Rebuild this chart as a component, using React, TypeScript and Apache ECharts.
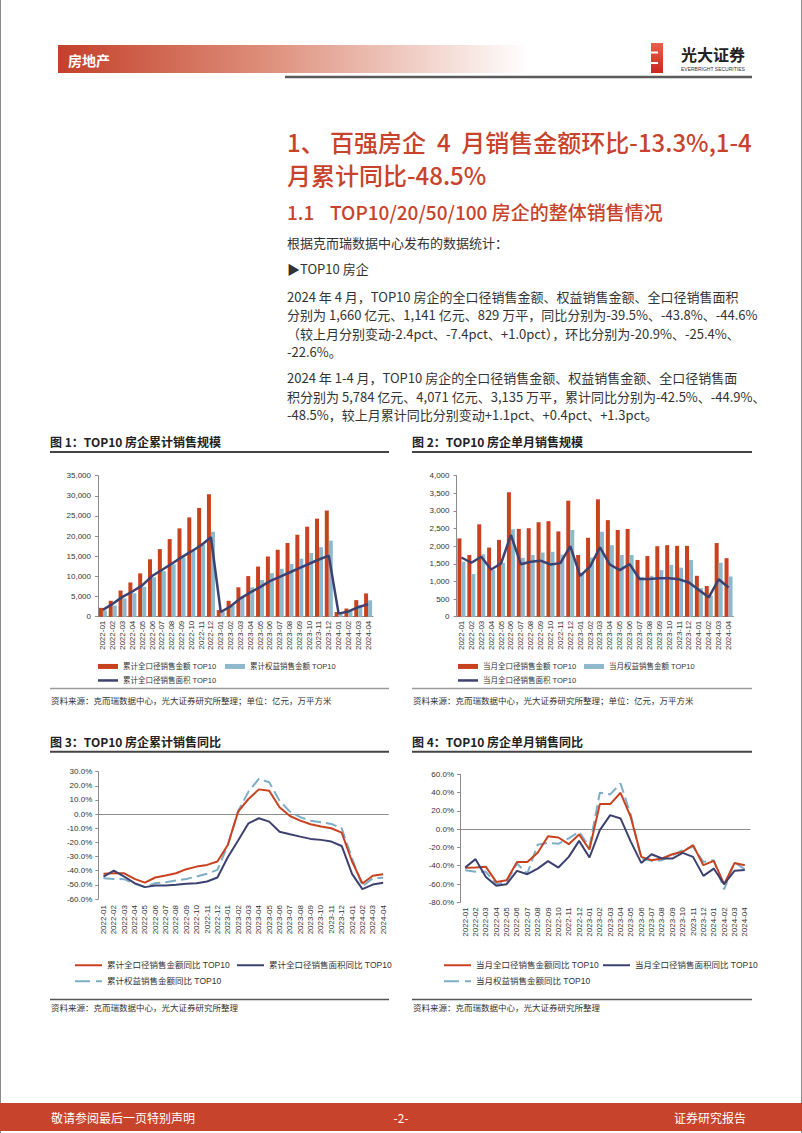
import React, { useEffect, useRef } from 'react';
import * as echarts from 'echarts';

const months = [
  '2022-01', '2022-02', '2022-03', '2022-04', '2022-05', '2022-06', '2022-07', '2022-08', '2022-09', '2022-10', '2022-11', '2022-12',
  '2023-01', '2023-02', '2023-03', '2023-04', '2023-05', '2023-06', '2023-07', '2023-08', '2023-09', '2023-10', '2023-11', '2023-12',
  '2024-01', '2024-02', '2024-03', '2024-04',
];

// 图1 累计（亿元 / 万平方米）
const cumAmount = [2200, 3950, 6500, 8500, 10750, 14250, 16780, 19270, 21930, 24650, 27000, 30400, 1650, 3950, 7300, 10080, 12450, 14950, 16620, 18300, 20350, 22350, 24350, 26350, 1160, 2030, 4120, 5784];
const cumEquity = [1560, 2770, 4540, 5820, 7420, 9800, 11300, 13000, 14700, 16400, 17900, 21100, 1240, 2800, 5150, 7300, 9100, 10800, 11900, 13100, 14400, 15800, 17250, 18900, 810, 1410, 2930, 4071];
const cumArea = [1680, 3210, 4920, 6260, 7770, 10090, 11580, 13140, 14720, 16200, 17720, 19730, 1160, 2580, 4550, 6020, 7350, 8830, 9900, 10970, 12060, 13140, 14200, 15170, 760, 1310, 2360, 3135];

// 图2 单月
const monAmount = [2220, 1750, 2620, 1960, 2180, 3530, 2490, 2510, 2680, 2710, 2420, 3290, 1750, 2240, 3330, 2740, 2460, 2490, 1610, 1720, 2000, 2030, 2010, 2010, 1160, 870, 2090, 1660];
const monEquity = [1560, 1210, 1770, 1330, 1530, 2480, 1670, 1750, 1820, 1840, 1760, 2460, 1240, 1680, 2410, 2030, 1750, 1750, 1130, 1160, 1320, 1470, 1390, 1610, 810, 600, 1530, 1141];
const monArea = [1680, 1530, 1700, 1340, 1510, 2320, 1490, 1560, 1590, 1480, 1520, 2000, 1160, 1420, 1970, 1480, 1320, 1490, 1070, 1070, 1090, 1090, 1060, 970, 760, 550, 1060, 829];

// 图3 累计同比（%）
const cumAmountYoy = [-42.2, -41.8, -41.8, -45.8, -48.4, -44.8, -43.4, -41.8, -38.9, -37.1, -35.9, -33.5, -21.8, 1.8, 10.7, 17.5, 16.6, 4.8, -1.3, -4.6, -7.2, -8.8, -10.0, -13.1, -33.5, -49.0, -43.6, -42.5];
const cumAreaYoy = [-44.1, -39.9, -44.1, -48.8, -51.6, -50.5, -50.5, -50.0, -49.3, -48.8, -47.6, -44.8, -30.5, -18.7, -6.5, -2.9, -5.3, -12.4, -14.2, -15.9, -17.5, -18.2, -19.4, -22.5, -42.2, -53.0, -49.8, -48.5];
const cumEquityYoy = [-45.3, -45.8, -46.0, -49.3, -51.5, -48.8, -48.1, -46.9, -45.8, -44.1, -42.2, -39.4, -22.0, 2.0, 15.9, 25.0, 22.5, 9.5, 1.8, -2.2, -4.6, -5.8, -6.9, -10.0, -31.2, -51.0, -45.3, -44.9];

// 图4 单月同比（%）
const monAmountYoy = [-42.3, -42.0, -41.2, -57.7, -55.8, -35.8, -35.8, -25.9, -7.7, -9.1, -16.4, -5.8, -22.3, 27.4, 27.4, 39.8, 12.8, -30.3, -33.9, -32.1, -27.4, -24.8, -17.5, -39.4, -34.7, -60.2, -37.1, -39.5];
const monAreaYoy = [-42.0, -32.8, -52.2, -62.0, -60.2, -45.6, -49.3, -43.1, -35.0, -42.0, -30.3, -12.8, -31.0, -1.1, 15.3, 11.7, -13.9, -36.9, -27.4, -32.1, -32.1, -25.9, -30.3, -51.1, -43.1, -60.2, -45.6, -44.6];
const monEquityYoy = [-44.9, -46.7, -46.7, -60.2, -57.7, -37.6, -48.5, -17.0, -15.0, -16.0, -10.0, -3.0, -19.3, 39.8, 38.0, 50.0, 15.3, -32.1, -34.7, -33.9, -28.5, -23.0, -19.3, -35.8, -33.9, -66.0, -36.4, -43.8];

const CJK = "'Noto Sans CJK SC', 'Noto Sans', sans-serif";
const ARIAL = "'Liberation Sans', Arial, 'Noto Sans CJK SC', sans-serif";
const RED = '#C8432B';
const BAR_RED = '#C9421F';
const BAR_BLUE = '#8FB8CC';
const NAVY = '#3D4170';
const DASH_BLUE = '#7DAEC6';
const AXIS = '#8C8C8C';
const TXT = '#333333';

const thousands = (v: number) => String(v).replace(/\B(?=(\d{3})+(?!\d))/g, ',');
const pct = (v: number) => v.toFixed(1) + '%';

function txt(x: number, y: number, s: string, font: string, fill: string, align = 'left') {
  return {
    type: 'text', x, y, silent: true,
    style: { text: s, font, fill, textAlign: align, align, textVerticalAlign: 'middle', verticalAlign: 'middle' },
  };
}
function hline(x1: number, x2: number, y: number, stroke: string, lw: number) {
  return { type: 'line', silent: true, shape: { x1, y1: y, x2, y2: y }, style: { stroke, lineWidth: lw } };
}

function leg(name: string, left: number, yc: number, fs: number, w: number, h: number, icon: string) {
  return {
    data: [name], left, top: yc - 5, padding: 0, itemGap: 0, itemWidth: w, itemHeight: h,
    icon, symbolKeepAspect: false,
    selectedMode: false,
    textStyle: { fontSize: fs, color: TXT, fontFamily: ARIAL },
  };
}
const DASH_ICON = 'path://M0,0H15V2H0Z M21,0H27V2H21Z';

const catLabel = (margin: number) => ({ interval: 0, rotate: 90, fontSize: 8, color: TXT, fontFamily: ARIAL, margin });

const xAxes: any[] = [
  { gridIndex: 0, type: 'category', data: months, axisLine: { lineStyle: { color: AXIS } }, axisTick: { length: 3, lineStyle: { color: AXIS } }, axisLabel: catLabel(4) },
  { gridIndex: 1, type: 'category', data: months, axisLine: { lineStyle: { color: AXIS } }, axisTick: { length: 3, lineStyle: { color: AXIS } }, axisLabel: catLabel(4) },
  { gridIndex: 2, type: 'category', data: months, position: 'bottom', axisLine: { show: false, onZero: false }, axisTick: { show: false }, axisLabel: catLabel(6) },
  { gridIndex: 2, type: 'category', data: months, position: 'top', axisLine: { onZero: true, lineStyle: { color: AXIS } }, axisTick: { length: 3, lineStyle: { color: AXIS } }, axisLabel: { show: false } },
  { gridIndex: 3, type: 'category', data: months, position: 'bottom', axisLine: { show: false, onZero: false }, axisTick: { show: false }, axisLabel: catLabel(5) },
  { gridIndex: 3, type: 'category', data: months, position: 'top', axisLine: { onZero: true, lineStyle: { color: AXIS } }, axisTick: { length: 3, lineStyle: { color: AXIS } }, axisLabel: { show: false } },
];

const yBase = (grid: number, min: number, max: number, interval: number, fmt: (v: number) => string, margin: number) => ({
  gridIndex: grid, type: 'value', min, max, interval,
  axisLine: { show: true, lineStyle: { color: AXIS } },
  axisTick: { show: true, length: 3, lineStyle: { color: AXIS } },
  splitLine: { show: false },
  axisLabel: { fontSize: 8, color: TXT, fontFamily: ARIAL, margin, formatter: fmt },
});

const yAxes = [
  yBase(0, 0, 35000, 5000, thousands, 7),
  yBase(1, 0, 4000, 500, thousands, 7),
  yBase(2, -60, 30, 10, pct, 6),
  yBase(3, -80, 60, 20, pct, 6),
];

const grids = [
  { left: 98, top: 475.7, width: 275, height: 141 },
  { left: 456.5, top: 475.7, width: 277, height: 141 },
  { left: 98.3, top: 771.7, width: 290, height: 127.3 },
  { left: 460, top: 774.3, width: 290, height: 128 },
].map((g) => ({ ...g, containLabel: false, outerBoundsMode: 'none' }));

const bar = (name: string, data: number[], xi: number, yi: number, color: string) => ({
  name, type: 'bar', data, xAxisIndex: xi, yAxisIndex: yi, barWidth: 4, barGap: '0%',
  itemStyle: { color }, silent: true,
});
const line = (name: string, data: number[], xi: number, yi: number, color: string, width: number, dashed = false) => ({
  name, type: 'line', data, xAxisIndex: xi, yAxisIndex: yi, symbol: 'none', showSymbol: false, silent: true,
  lineStyle: { color, width, type: dashed ? [11, 5] : 'solid' }, itemStyle: { color }, z: 3,
});

const N1 = ['累计全口径销售金额 TOP10', '累计权益销售金额 TOP10', '累计全口径销售面积 TOP10'];
const N2 = ['当月全口径销售金额 TOP10', '当月权益销售金额 TOP10', '当月全口径销售面积 TOP10'];
const N3 = ['累计全口径销售金额同比 TOP10', '累计全口径销售面积同比 TOP10', '累计权益销售金额同比 TOP10'];
const N4 = ['当月全口径销售金额同比 TOP10', '当月全口径销售面积同比 TOP10', '当月权益销售金额同比 TOP10'];

const series = [
  bar(N1[0], cumAmount, 0, 0, BAR_RED),
  bar(N1[1], cumEquity, 0, 0, BAR_BLUE),
  line(N1[2], cumArea, 0, 0, NAVY, 2.5),
  bar(N2[0], monAmount, 1, 1, BAR_RED),
  bar(N2[1], monEquity, 1, 1, BAR_BLUE),
  line(N2[2], monArea, 1, 1, NAVY, 2.5),
  line(N3[2], cumEquityYoy, 2, 2, DASH_BLUE, 2, true),
  line(N3[0], cumAmountYoy, 2, 2, BAR_RED, 2),
  line(N3[1], cumAreaYoy, 2, 2, NAVY, 2),
  line(N4[2], monEquityYoy, 4, 3, DASH_BLUE, 2, true),
  line(N4[0], monAmountYoy, 4, 3, BAR_RED, 2),
  line(N4[1], monAreaYoy, 4, 3, NAVY, 2),
];

const legends = [
  leg(N1[0], 98, 667.7, 7.5, 20, 5, 'rect'),
  leg(N1[1], 225, 667.7, 7.5, 20, 5, 'rect'),
  leg(N1[2], 98, 681.7, 7.5, 20, 2.5, 'rect'),
  leg(N2[0], 458, 667.7, 7.5, 20, 5, 'rect'),
  leg(N2[1], 584, 667.7, 7.5, 20, 5, 'rect'),
  leg(N2[2], 458, 681.7, 7.5, 20, 2.5, 'rect'),
  leg(N3[0], 75, 966, 8.5, 27, 2, 'rect'),
  leg(N3[1], 237, 966, 8.5, 27, 2, 'rect'),
  leg(N3[2], 75, 982, 8.5, 27, 2, DASH_ICON),
  leg(N4[0], 444, 966, 8.5, 27, 2, 'rect'),
  leg(N4[1], 603, 966, 8.5, 27, 2, 'rect'),
  leg(N4[2], 444, 982, 8.5, 27, 2, DASH_ICON),
];

const bodyFont = `13px ${CJK}`;
const graphics: any[] = [
  // page edges
  { type: 'line', silent: true, shape: { x1: 0.5, y1: 0, x2: 0.5, y2: 1133 }, style: { stroke: '#8a8a8a', lineWidth: 1 } },
  { type: 'line', silent: true, shape: { x1: 801.5, y1: 0, x2: 801.5, y2: 1133 }, style: { stroke: '#8a8a8a', lineWidth: 1 } },
  // header
  {
    type: 'rect', silent: true, shape: { x: 58, y: 45, width: 470, height: 28 },
    style: {
      fill: new echarts.graphic.LinearGradient(0, 0, 1, 0, [
        { offset: 0, color: '#C4402A' },
        { offset: 0.45, color: '#DE907C' },
        { offset: 1, color: '#FFFFFF' },
      ]),
    },
  },
  txt(68, 59.5, '房地产', `bold 14px ${CJK}`, '#FFFFFF'),
  hline(285, 752, 77, '#5a5a5a', 2.5),
  // logo
  {
    type: 'rect', silent: true, shape: { x: 651, y: 43, width: 12, height: 30 },
    style: {
      fill: new echarts.graphic.LinearGradient(0, 0, 0, 1, [
        { offset: 0, color: '#E8604A' },
        { offset: 1, color: '#C8281E' },
      ]),
    },
  },
  { type: 'rect', silent: true, shape: { x: 651, y: 51.5, width: 7, height: 2 }, style: { fill: '#FFFFFF' } },
  { type: 'rect', silent: true, shape: { x: 651, y: 62, width: 7, height: 2 }, style: { fill: '#FFFFFF' } },
  txt(681, 53.5, '光大证券', `bold 16px ${CJK}`, '#222222'),
  txt(681, 69, 'EVERBRIGHT SECURITIES', `5px ${ARIAL}`, '#333333'),
  // titles
  txt(287, 141, '1、 百强房企  4  月销售金额环比-13.3%,1-4', `500 24px ${CJK}`, RED),
  txt(287, 174, '月累计同比-48.5%', `500 24px ${CJK}`, RED),
  txt(287, 211, '1.1', `500 19px ${CJK}`, RED),
  txt(330, 211, 'TOP10/20/50/100 房企的整体销售情况', `500 19px ${CJK}`, RED),
  txt(287, 242, '根据克而瑞数据中心发布的数据统计：', bodyFont, TXT),
  txt(287, 268, '▶TOP10 房企', bodyFont, TXT),
  txt(287, 296, '2024 年 4 月，TOP10 房企的全口径销售金额、权益销售金额、全口径销售面积', bodyFont, TXT),
  txt(287, 314.5, '分别为 1,660 亿元、1,141 亿元、829 万平，同比分别为-39.5%、-43.8%、-44.6%', bodyFont, TXT),
  txt(287, 333, '（较上月分别变动-2.4pct、-7.4pct、+1.0pct），环比分别为-20.9%、-25.4%、', bodyFont, TXT),
  txt(287, 351.5, '-22.6%。', bodyFont, TXT),
  txt(287, 377.5, '2024 年 1-4 月，TOP10 房企的全口径销售金额、权益销售金额、全口径销售面', bodyFont, TXT),
  txt(287, 396, '积分别为 5,784 亿元、4,071 亿元、3,135 万平，累计同比分别为-42.5%、-44.9%、', bodyFont, TXT),
  txt(287, 414.5, '-48.5%，较上月累计同比分别变动+1.1pct、+0.4pct、+1.3pct。', bodyFont, TXT),
  // figure titles
  txt(50, 441.5, '图 1：TOP10 房企累计销售规模', `bold 12px ${CJK}`, '#222222'),
  hline(50, 389, 452, '#444444', 2),
  txt(412, 441.5, '图 2：TOP10 房企单月销售规模', `bold 12px ${CJK}`, '#222222'),
  hline(412, 752, 452, '#444444', 2),
  txt(50, 741.5, '图 3：TOP10 房企累计销售同比', `bold 12px ${CJK}`, '#222222'),
  hline(50, 389, 751.7, '#444444', 2),
  txt(412, 741.5, '图 4：TOP10 房企单月销售同比', `bold 12px ${CJK}`, '#222222'),
  hline(412, 752, 751.7, '#444444', 2),
  // sources
  hline(50, 389, 688.5, '#9a9a9a', 1.5),
  txt(51, 700, '资料来源：克而瑞数据中心，光大证券研究所整理；单位：亿元，万平方米', `8.5px ${CJK}`, TXT),
  hline(412, 752, 688.5, '#9a9a9a', 1.5),
  txt(413, 700, '资料来源：克而瑞数据中心，光大证券研究所整理；单位：亿元，万平方米', `8.5px ${CJK}`, TXT),
  hline(50, 389, 999.5, '#555555', 1.5),
  txt(51, 1007, '资料来源：克而瑞数据中心，光大证券研究所整理', `8.5px ${CJK}`, TXT),
  hline(412, 752, 999.5, '#555555', 1.5),
  txt(413, 1007, '资料来源：克而瑞数据中心，光大证券研究所整理', `8.5px ${CJK}`, TXT),
  // footer
  { type: 'rect', silent: true, shape: { x: 0, y: 1103, width: 802, height: 28 }, style: { fill: '#C8432B' } },
  txt(51, 1117, '敬请参阅最后一页特别声明', `12px ${CJK}`, '#FFFFFF'),
  txt(401, 1117, '-2-', `12px ${CJK}`, '#FFFFFF', 'center'),
  txt(746, 1117, '证券研究报告', `12px ${CJK}`, '#FFFFFF', 'right'),
];

const option: any = {
  animation: false,
  backgroundColor: '#FFFFFF',
  grid: grids,
  xAxis: xAxes,
  yAxis: yAxes,
  legend: legends,
  series,
  graphic: { elements: graphics },
};

export default function App() {
  const ref = useRef<HTMLDivElement>(null);
  useEffect(() => {
    const chart = echarts.init(ref.current as HTMLDivElement, null, { renderer: 'svg' });
    chart.setOption(option);
    return () => chart.dispose();
  }, []);
  return (
    <div
      ref={ref}
      style={{ position: 'absolute', left: 0, top: 0, width: 802, height: 1133, background: '#fff' }}
    />
  );
}
